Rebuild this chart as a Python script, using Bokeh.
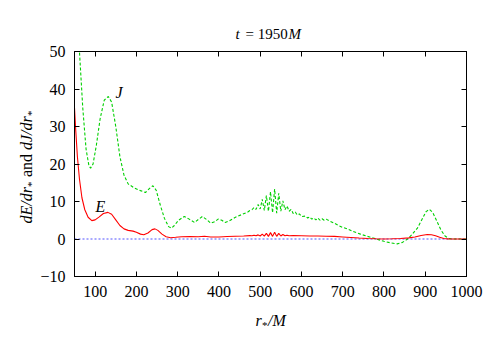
import math
from bokeh.plotting import figure
from bokeh.models import Range1d, FixedTicker, LinearAxis, Label
from bokeh.embed import file_html
from bokeh.resources import INLINE

# ---------------- data ----------------
r_E = [50, 53, 57, 62, 68, 75, 83, 92, 100, 110, 120, 131, 140, 150, 160, 170, 180, 192,
       200, 210, 218, 228, 238, 245, 252, 262, 272, 283, 295, 310, 330, 350, 365, 380,
       400, 420, 440, 460, 475, 480, 485, 490, 495, 500, 505, 510, 515, 520, 525, 530,
       535, 540, 545, 550, 555, 560, 565, 570, 580, 600, 620, 640, 660, 680, 700, 720,
       740, 760, 780, 800, 820, 840, 860, 875, 890, 905, 915, 925, 935, 945, 955, 970, 1000]
E_vals = [35, 29, 22, 16, 11, 7.8, 5.8, 4.9, 5.1, 5.9, 6.8, 7.1, 6.6, 5.1, 3.6, 2.7, 2.3, 2.1,
          1.8, 1.3, 1.15, 1.6, 2.5, 2.7, 2.3, 1.3, 0.6, 0.35, 0.45, 0.6, 0.65, 0.6, 0.75, 0.55,
          0.55, 0.65, 0.75, 0.8, 0.9, 0.85, 1.0, 0.85, 1.1, 0.8, 1.3, 0.75, 1.5, 0.7, 1.7, 0.7,
          1.8, 0.7, 1.5, 0.8, 1.2, 0.85, 1.0, 0.85, 0.9, 0.85, 0.8, 0.8, 0.75, 0.7, 0.55, 0.4,
          0.25, 0.12, 0.05, 0.0, 0.05, 0.15, 0.3, 0.55, 0.95, 1.2, 1.15, 0.85, 0.45, 0.15, 0.03, 0.0, 0.0]

r_J = [50, 56, 62, 70, 78, 85, 89, 95, 103, 112, 122, 132, 140, 150, 160, 170, 180, 195,
       210, 222, 232, 240, 248, 258, 268, 278, 285, 292, 302, 316, 328, 341, 350, 360, 370,
       380, 390, 398, 407, 415, 425, 440, 455, 470, 475, 480, 485, 490, 495, 500, 505, 510,
       515, 520, 525, 530, 535, 540, 545, 550, 555, 560, 565, 570, 575, 580, 585, 590, 595,
       600, 610, 615, 620, 625, 630, 635, 640, 645, 650, 655, 660, 670, 680, 690, 700, 711,
       725, 743, 760, 776, 790, 800, 815, 832, 845, 857, 868, 881, 892, 902, 910, 918, 928,
       938, 948, 958, 970, 1000]
J_vals = [75, 60, 50, 35, 24, 19.5, 18.9, 20, 25, 32, 37, 38, 36.5, 30, 22, 17, 14.7, 13.6,
          12.9, 12.4, 13.5, 14.2, 13, 9, 5.5, 3.3, 2.9, 3.6, 5, 6.0, 5.3, 4.4, 5.2, 6, 5.2,
          4.2, 4.6, 5.3, 5.0, 4.4, 4.8, 5.8, 6.5, 7.2, 7.6, 7.8, 8.4, 7.9, 9.2, 8.0, 10.6, 7.6,
          11.6, 7.4, 12.6, 7.0, 13.3, 6.9, 12.2, 7.4, 10.2, 7.8, 8.8, 7.4, 7.9, 6.8, 7.2, 6.4, 6.7,
          6.0, 6.1, 5.6, 5.9, 5.3, 5.6, 5.1, 5.6, 5.0, 5.4, 5.0, 5.3, 4.7, 4.2, 3.6, 3.1, 2.7,
          2.0, 1.3, 0.7, 0.2, -0.3, -0.6, -1.0, -1.3, -0.9, 0.0, 1.2, 2.9, 5.2, 7.3, 7.9, 7.1, 4.8,
          2.4, 0.8, 0.1, 0.0, 0.0]

r_zero = [50, 1000]
zero_vals = [0, 0]

x_ticks = [100, 200, 300, 400, 500, 600, 700, 800, 900, 1000]
y_ticks = [-10, 0, 10, 20, 30, 40, 50]

# ---------------- layout ----------------
W, H = 498, 349
FL, FR, FT, FB = 74, 466, 51, 276   # frame edges in page pixels
X0, X1, Y0, Y1 = 50, 1000, -10, 50

def dx(px):
    return X0 + (px - FL) * (X1 - X0) / (FR - FL)

def dy(py):
    return Y1 - (py - FT) * (Y1 - Y0) / (FB - FT)

FONT = "Liberation Serif"

p = figure(width=W, height=H, output_backend="svg", toolbar_location=None,
           x_range=Range1d(X0, X1), y_range=Range1d(Y0, Y1),
           min_border_left=FL, min_border_right=W - FR,
           min_border_top=FT, min_border_bottom=H - FB)
p.xgrid.visible = False
p.ygrid.visible = False
p.outline_line_color = "black"
p.outline_line_width = 1
p.background_fill_color = "white"
p.border_fill_color = "white"

def style_axis(ax, show_labels):
    ax.major_tick_in = 5
    ax.major_tick_out = 0
    ax.minor_tick_line_color = None
    ax.axis_line_color = "black"
    ax.major_tick_line_color = "black"
    ax.major_label_text_font = FONT
    ax.major_label_text_font_size = "16px"
    ax.major_label_text_color = "black"
    if not show_labels:
        ax.major_label_text_color = None
        ax.major_label_text_font_size = "1px"
        ax.major_label_standoff = 0

p.xaxis.ticker = FixedTicker(ticks=x_ticks)
p.yaxis.ticker = FixedTicker(ticks=y_ticks)
style_axis(p.xaxis[0], True)
style_axis(p.yaxis[0], True)
p.xaxis.major_label_standoff = 9
p.yaxis.major_label_standoff = 9

top_ax = LinearAxis(ticker=FixedTicker(ticks=x_ticks))
right_ax = LinearAxis(ticker=FixedTicker(ticks=y_ticks))
style_axis(top_ax, False)
style_axis(right_ax, False)
p.add_layout(top_ax, "above")
p.add_layout(right_ax, "right")

# ---------------- curves ----------------
p.line(r_zero, zero_vals, line_color="#4040ff", line_alpha=0.9, line_width=1.2, line_dash="2 2")
p.line(r_J, J_vals, line_color="#00d000", line_width=1.1, line_dash="3 2")
p.line(r_E, E_vals, line_color="#ff0000", line_width=1.1)

# ---------------- texts ----------------
# Labels outside the frame are hosted in side panels (so they are not clipped);
# their positions are still given in data units through the frame's scales.
def lab(text, px, py, size=15, italic=False, angle=0.0, place=None):
    L = Label(x=dx(px), y=dy(py), text=text, angle=angle,
              text_font=FONT, text_font_size=f"{size}px",
              text_font_style="italic" if italic else "normal",
              text_align="left", text_baseline="alphabetic",
              text_color="black")
    if place is None:
        p.add_layout(L)
    else:
        p.add_layout(L, place)

# curve labels (inside the frame)
lab("J", 115, 92, size=16, italic=True)
lab("E", 95, 206, size=16, italic=True)

# title  t = 1950M
lab("t", 235, 33, italic=True, place="right")
lab("= 1950", 245, 33, place="above")
lab("M", 288, 33, italic=True, place="right")

# x label  r*/M
lab("r", 255, 320, size=16, italic=True, place="right")
lab("*", 261.5, 324, size=11, place="right")
lab("/M", 267.5, 320, size=16, italic=True, place="above")

# y label  dE/dr* and dJ/dr*  (rotated)
A = math.pi / 2
bx = 26
lab("dE/dr", bx, 223, size=16, italic=True, angle=A, place="left")
lab("*", bx + 4, 186.5, size=11, angle=A, place="above")
lab("and", bx, 176.5, size=16, angle=A, place="left")
lab("dJ/dr", bx, 149.5, size=16, italic=True, angle=A, place="below")
lab("*", bx + 4, 115.5, size=11, angle=A, place="below")

open("out.html", "w").write(file_html(p, INLINE))
